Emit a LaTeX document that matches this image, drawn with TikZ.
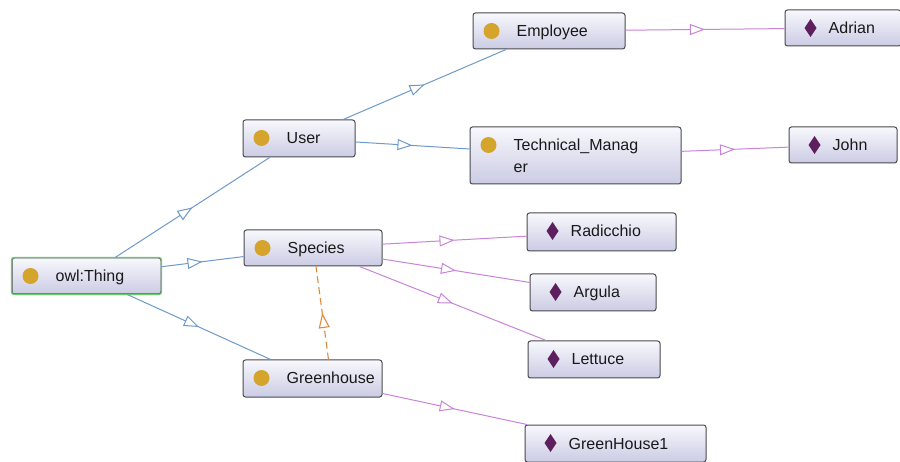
\documentclass[tikz,border=0pt]{standalone}
\usepackage{fontspec}
\setmainfont{Liberation Sans}
\usetikzlibrary{arrows.meta,decorations.markings,calc}
\definecolor{clsgold}{HTML}{D4A42C}
\definecolor{indpurple}{HTML}{5E1F5E}
\definecolor{boxtop}{HTML}{F8F8FD}
\definecolor{boxbot}{HTML}{CBCBE4}
\definecolor{boxline}{HTML}{4A4A50}
\definecolor{thinggreen}{HTML}{66CC66}
\definecolor{isablue}{HTML}{6E9ACB}
\definecolor{instpurple}{HTML}{C984DA}
\definecolor{dashorange}{HTML}{E08A3C}
\tikzset{
  obox/.style={draw=boxline, line width=1pt, rounded corners=2.5pt, top color=boxtop, bottom color=boxbot, inner sep=0pt},
  lbl/.style={inner sep=0pt, font=\fontsize{16}{22}\selectfont, text=black!90},
  midtri/.style={postaction={decorate}, decoration={markings, mark=at position 0.5 with {\arrow{Triangle[fill=white, length=15pt, width=11pt]}}}},
  isa/.style={draw=isablue, line width=1pt, midtri},
  inst/.style={draw=instpurple, line width=1pt, midtri},
  dashlink/.style={draw=dashorange, line width=1.1pt, dash pattern=on 7pt off 4pt, midtri},
}
% name, cx, cy, w, h, text
\newcommand\clsnode[6]{%
  \node[obox, minimum width=#4pt, minimum height=#5pt] (#1) at (#2,#3) {};
  \fill[clsgold] ($(#1.north west)+(19pt,-18.5pt)$) circle (8pt);
  \node[lbl, anchor=base west] (#1-t) at ($(#1.north west)+(44pt,-24.5pt)$) {#6};
}
\newcommand\indnode[6]{%
  \node[obox, minimum width=#4pt, minimum height=#5pt] (#1) at (#2,#3) {};
  \coordinate (#1-d) at ($(#1.north west)+(26pt,-18.5pt)$);
  \fill[indpurple] (#1-d) +(0pt,9pt) -- +(6pt,0pt) -- +(0pt,-9pt) -- +(-6pt,0pt) -- cycle;
  \node[lbl, anchor=base west] (#1-t) at ($(#1.north west)+(44pt,-24.5pt)$) {#6};
}
\begin{document}
\begin{tikzpicture}[x=1pt,y=-1pt]
\useasboundingbox[fill=white] (0,0) rectangle (900,462);
% classes
\clsnode{thing}{86.5}{276}{149}{36}{owl:Thing}
\clsnode{user}{299}{138.5}{112}{37}{User}
\clsnode{species}{313}{248}{138}{36}{Species}
\clsnode{gh}{312.5}{378.5}{139}{37}{Greenhouse}
\clsnode{emp}{549}{31}{152}{36}{Employee}
\node[obox, minimum width=211pt, minimum height=57pt] (tm) at (575.5,155.5) {};
\fill[clsgold] ($(tm.north west)+(19pt,-18.5pt)$) circle (8pt);
\node[lbl, anchor=north west, align=left] (tm-t) at ($(tm.north west)+(44pt,-12.5pt)$) {Technical\_Manag\\er};
\draw[thinggreen, line width=1.3pt, rounded corners=2.5pt] (thing.south west) rectangle (thing.north east);
% individuals
\indnode{adrian}{843}{28}{116}{36}{Adrian}
\indnode{john}{843}{145}{108}{36}{John}
\indnode{radic}{601.5}{232}{149}{38}{Radicchio}
\indnode{argula}{593}{292.5}{126}{37}{Argula}
\indnode{lettuce}{594}{359.5}{132}{37}{Lettuce}
\indnode{gh1}{615.5}{443.5}{181}{37}{GreenHouse1}
% subclass links
\draw[isa] (thing) -- (user);
\draw[isa] (thing) -- (species);
\draw[isa] (thing) -- (gh);
\draw[isa] (user) -- (emp);
\draw[isa] (user) -- (tm);
% instance links
\draw[inst] (emp) -- (adrian);
\draw[inst] (tm) -- (john);
\draw[inst] (species) -- (radic);
\draw[inst] (species) -- (argula);
\draw[inst] (species) -- (lettuce);
\draw[inst] (gh) -- (gh1);
% dashed link
\draw[dashlink] ($(gh.north)+(16pt,0pt)$) -- ($(species.south)+(3pt,0pt)$);
\end{tikzpicture}
\end{document}
